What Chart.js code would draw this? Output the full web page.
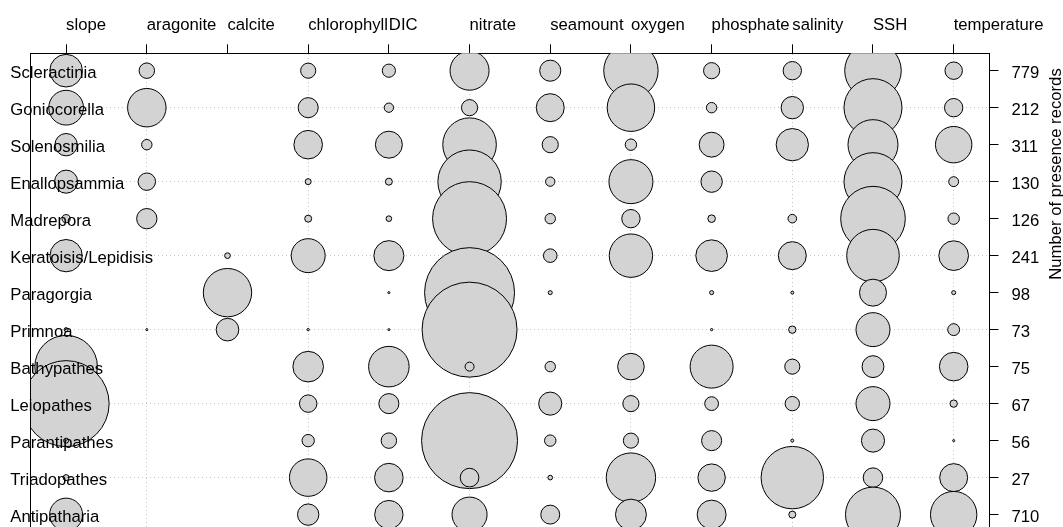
<!DOCTYPE html>
<html><head><meta charset="utf-8">
<script src="https://cdn.jsdelivr.net/npm/chart.js@4.4.0/dist/chart.umd.min.js"></script>
<style>html,body{margin:0;padding:0;overflow:hidden;background:#fff}</style>
</head><body>
<canvas id="c" width="1063" height="532"></canvas>
<script>
// ---- data ----
const species = ['Scleractinia','Goniocorella','Solenosmilia','Enallopsammia','Madrepora','Keratoisis/Lepidisis','Paragorgia','Primnoa','Bathypathes','Leiopathes','Parantipathes','Triadopathes','Antipatharia'];
const records = [779, 212, 311, 130, 126, 241, 98, 73, 75, 67, 56, 27, 710];
const variables = ['slope','aragonite','calcite','chlorophyll','DIC','nitrate','seamount','oxygen','phosphate','salinity','SSH','temperature'];
const axisTitle = 'Number of presence records';

// relative importance (%) of each variable, in species order
const slope       = [9.8, 11.1, 4.6, 4.9, 0.6, 9.6, 0, 0.15, 36.0, 68.0, 0.23, 0.33, 10.0];
const aragonite   = [2.2, 13.6, 1.0, 2.8, 3.8, 0, 0, 0.04, 0, 0, 0, 0, 0];
const calcite     = [0, 0, 0, 0, 0, 0.3, 21.5, 4.7, 0, 0, 0, 0, 0];
const chlorophyll = [2.1, 3.7, 7.5, 0.33, 0.45, 10.6, 0, 0.05, 8.6, 2.8, 1.4, 12.9, 4.2];
const DIC         = [1.6, 0.8, 6.7, 0.45, 0.29, 8.3, 0.04, 0.04, 15.1, 3.7, 2.2, 7.5, 7.4];
const nitrate     = [14.0, 2.4, 26.4, 36.9, 50.3, 2.0, 74.4, 82.9, 0.74, 2.0, 84.7, 3.2, 11.3];
const seamount    = [4.1, 7.2, 2.4, 0.8, 1.0, 1.7, 0.15, 0, 1.0, 4.9, 1.2, 0.2, 3.3];
const oxygen      = [27.2, 20.7, 1.2, 17.8, 3.1, 17.3, 0, 0, 6.5, 2.4, 2.1, 22.4, 8.8];
const phosphate   = [2.4, 1.0, 5.7, 4.2, 0.53, 9.2, 0.15, 0.05, 17.0, 1.75, 3.7, 6.9, 7.7];
const salinity    = [3.1, 4.6, 9.6, 0, 0.68, 7.2, 0.08, 0.5, 2.1, 1.9, 0.08, 35.8, 0.45];
const SSH         = [29.4, 30.9, 23.0, 30.9, 38.4, 25.4, 6.7, 10.6, 4.4, 10.6, 4.9, 3.5, 27.8];
const temperature = [2.8, 3.1, 12.2, 0.9, 1.2, 8.1, 0.15, 1.3, 7.5, 0.5, 0.04, 7.2, 19.8];

// ---- styles ----
const GRID = '#c4c4c4';
const FONT = "'Liberation Sans', Arial, Helvetica, sans-serif";
const FSIZE = 16.7;
const RADIUS_PER_SQRT = 5.215;

const columns = [slope, aragonite, calcite, chlorophyll, DIC, nitrate, seamount, oxygen, phosphate, salinity, SSH, temperature];

const datasets = variables.map((name, col) => ({
  label: name,
  data: columns[col]
    .map((v, row) => ({ x: col, y: row, v }))
    .filter(p => p.v > 0)
    .map(p => ({ x: p.x, y: p.y, r: RADIUS_PER_SQRT * Math.sqrt(p.v) })),
  backgroundColor: '#d3d3d3',
  borderColor: '#000',
  borderWidth: 1,
  clip: 0
}));

function fixed(size, prop) {
  return s => { s[prop] = size; s.paddingTop = 0; s.paddingBottom = 0; s.paddingLeft = 0; s.paddingRight = 0; };
}
const colTicks = s => { s.ticks = variables.map((_, i) => ({ value: i })); };
const rowTicks = s => { s.ticks = species.map((_, i) => ({ value: i })); };
const oddGrid = c => (c.tick && c.tick.value % 2 === 1) ? GRID : 'rgba(0,0,0,0)';
const yRange = { type: 'linear', min: -0.47, max: 12.47, reverse: true, afterBuildTicks: rowTicks };

const rightTitle = {
  id: 'rightTitle',
  afterDraw(chart) {
    const ctx = chart.ctx;
    ctx.save();
    ctx.font = FSIZE + 'px ' + FONT;
    ctx.fillStyle = '#000';
    ctx.textAlign = 'center';
    ctx.textBaseline = 'alphabetic';
    ctx.translate(1061, 174);
    ctx.rotate(-Math.PI / 2);
    ctx.fillText(axisTitle, 0, 0);
    ctx.restore();
  }
};

Chart.defaults.font.family = FONT;
Chart.defaults.font.size = FSIZE;
Chart.defaults.color = '#000';

new Chart(document.getElementById('c'), {
  type: 'bubble',
  data: { datasets },
  plugins: [rightTitle],
  options: {
    responsive: false,
    animation: false,
    events: [],
    layout: { padding: 0, autoPadding: false },
    plugins: { legend: { display: false }, tooltip: { enabled: false } },
    scales: {
      x: {
        type: 'linear', position: 'top', min: -0.444, max: 11.444,
        afterBuildTicks: colTicks, afterFit: fixed(53.3, 'height'),
        ticks: { autoSkip: false, maxRotation: 0, minRotation: 0, align: 'start', padding: 9,
                 color: '#000', font: { size: FSIZE }, callback: v => variables[v] },
        grid: { color: oddGrid, lineWidth: 1, tickColor: '#000', tickLength: 9, tickWidth: 1 },
        border: { display: true, color: '#000', width: 1, dash: [1, 3] }
      },
      y: Object.assign({}, yRange, {
        position: 'left', afterFit: fixed(0, 'width'),
        ticks: { display: false },
        grid: { color: oddGrid, lineWidth: 1, drawTicks: false },
        border: { display: false, dash: [1, 3] }
      }),
      yLab: Object.assign({}, yRange, {
        position: 'left', afterFit: fixed(30.3, 'width'),
        ticks: { z: 1, mirror: true, padding: -20, labelOffset: 3, autoSkip: false, color: '#000',
                 font: { size: FSIZE }, callback: v => species[v] },
        grid: { drawOnChartArea: false, drawTicks: false },
        border: { display: true, color: '#000', width: 1, z: 1 }
      }),
      yRight: Object.assign({}, yRange, {
        position: 'right', afterFit: fixed(73.5, 'width'),
        ticks: { padding: 13, labelOffset: 3, autoSkip: false, color: '#000',
                 font: { size: FSIZE }, callback: v => records[v] },
        grid: { drawOnChartArea: false, tickColor: '#000', tickLength: 9, tickWidth: 1 },
        border: { display: true, color: '#000', width: 1 }
      })
    }
  }
});
</script>
</body></html>
